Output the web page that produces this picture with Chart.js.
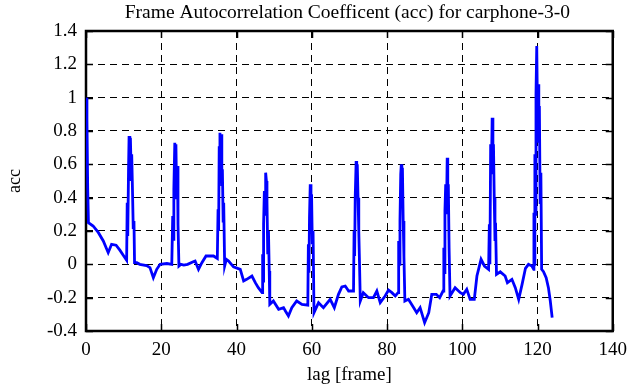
<!DOCTYPE html>
<html>
<head>
<meta charset="utf-8">
<script src="https://cdn.jsdelivr.net/npm/chart.js@4/dist/chart.umd.min.js"></script>
<style>
  html, body { margin: 0; padding: 0; background: #fff; }
  #wrap { width: 635px; height: 387px; }
</style>
</head>
<body>
<div id="wrap"><canvas id="c" width="635" height="387"></canvas></div>
<script>
const chartTitle = "Frame Autocorrelation Coefficent (acc) for carphone-3-0";
const xTitle = "lag [frame]";
const yTitle = "acc";
const xTicks = [0, 20, 40, 60, 80, 100, 120, 140];
const yTicks = [-0.4, -0.2, 0, 0.2, 0.4, 0.6, 0.8, 1, 1.2, 1.4];
const yTickLabels = ["-0.4", "-0.2", "0", "0.2", "0.4", "0.6", "0.8", "1", "1.2", "1.4"];

const lags = [
  0, 0.25, 0.45, 0.65, 1.9, 3.3, 4.6, 5.9, 6.8, 8.0, 9.0, 9.9, 10.8,
  10.95, 11.1, 11.3, 11.45, 11.65, 11.8, 12.0, 12.15, 12.35, 12.55, 12.75, 12.9,
  13.5, 14.3, 16.1, 17.0, 17.9, 18.8, 19.7, 21.5, 22.8,
  23.05, 23.2, 23.35, 23.6, 23.75, 23.9, 24.1, 24.3, 24.45, 24.7,
  25.2, 26.0, 27.0, 28.5, 29.0, 29.9, 30.8, 31.9, 33.9, 34.9,
  35.1, 35.25, 35.4, 35.6, 35.75, 35.9, 36.1, 36.25, 36.45, 36.6, 36.85,
  37.3, 37.9, 39.2, 41.0, 41.9, 42.7, 44.1, 45.0, 45.8, 46.8,
  46.95, 47.1, 47.2, 47.4, 47.6, 47.75, 47.95, 48.1, 48.3, 48.5, 48.7, 48.85,
  49.8, 51.2, 52.5, 53.0, 53.8, 54.7, 56.0, 57.4, 58.95,
  59.1, 59.25, 59.4, 59.6, 59.8, 59.95, 60.15, 60.35, 60.6,
  61.8, 63.1, 64.9, 66.0, 67.1, 68.0, 68.9, 69.8, 71.1,
  71.25, 71.4, 71.55, 71.8, 71.95, 72.1, 72.3, 72.5, 72.7, 72.9,
  73.7, 75.1, 76.4, 77.3, 78.2, 79.5, 80.4, 81.3, 82.2, 82.95,
  83.1, 83.3, 83.45, 83.65, 83.8, 83.95, 84.1, 84.3, 84.5, 84.75,
  85.7, 87.1, 87.9, 88.8, 90.0, 91.1, 91.9, 93.1, 94.0, 94.9,
  95.1, 95.25, 95.4, 95.6, 95.8, 96.0, 96.15, 96.3, 96.5, 96.75,
  98.1, 99.5, 100.3, 101.2, 102.1, 103.2, 103.9, 105.0, 105.9, 107.0,
  107.2, 107.35, 107.55, 107.75, 107.95, 108.15, 108.3, 108.5, 108.7, 108.85, 109.1,
  110.1, 111.4, 112.0, 113.2, 114.1, 115.0, 115.9, 116.8, 117.6, 118.5, 119.0,
  119.05, 119.15, 119.3, 119.45, 119.6, 119.8, 120.0, 120.15, 120.35, 120.5, 120.7, 120.9, 121.1,
  121.6, 122.3, 122.9, 123.4, 123.9
];
const acc = [
  1.00, 0.87, 0.46, 0.25, 0.23, 0.19, 0.14, 0.07, 0.12, 0.115, 0.085, 0.055, 0.025,
  0.37, 0.17, 0.56, 0.77, 0.50, 0.76, 0.56, 0.66, 0.45, 0.22, 0.26, 0.01,
  0.01, 0.00, -0.008, -0.02, -0.08, -0.03, 0.00, 0.005, 0.00,
  0.29, 0.15, 0.45, 0.73, 0.50, 0.72, 0.39, 0.59, 0.24, -0.01,
  0.00, -0.005, 0.00, 0.015, 0.02, -0.03, 0.01, 0.05, 0.05, 0.035,
  0.33, 0.20, 0.70, 0.79, 0.60, 0.78, 0.47, 0.57, 0.26, 0.37, -0.01,
  0.03, 0.02, -0.015, -0.03, -0.10, -0.09, -0.07, -0.11, -0.14, -0.17,
  0.06, -0.10, 0.24, 0.44, 0.30, 0.55, 0.50, 0.38, 0.06, 0.20, -0.04, -0.24,
  -0.22, -0.27, -0.26, -0.28, -0.31, -0.26, -0.22, -0.24, -0.245,
  0.12, -0.05, 0.28, 0.48, 0.30, 0.42, 0.12, 0.20, -0.29,
  -0.23, -0.26, -0.21, -0.26, -0.18, -0.135, -0.13, -0.16, -0.16,
  0.20, 0.05, 0.40, 0.62, 0.45, 0.60, 0.40, 0.20, 0.00, -0.22,
  -0.17, -0.20, -0.20, -0.16, -0.23, -0.19, -0.155, -0.17, -0.19, -0.17,
  0.14, 0.00, 0.26, 0.54, 0.60, 0.45, 0.58, 0.26, 0.05, -0.22,
  -0.21, -0.26, -0.29, -0.26, -0.35, -0.29, -0.18, -0.18, -0.20, -0.16,
  0.10, -0.05, 0.32, 0.48, 0.30, 0.64, 0.40, 0.48, 0.10, -0.19,
  -0.14, -0.17, -0.18, -0.15, -0.21, -0.21, -0.07, 0.03, -0.01, -0.03,
  0.24, 0.00, 0.72, 0.54, 0.88, 0.60, 0.72, 0.40, 0.14, 0.25, -0.06,
  -0.045, -0.07, -0.11, -0.09, -0.14, -0.21, -0.12, -0.024, 0.00, -0.01, -0.03,
  0.31, 0.00, 0.66, 0.30, 1.02, 1.31, 0.90, 1.08, 0.73, 0.95, 0.37, 0.55, -0.03,
  -0.044, -0.08, -0.14, -0.22, -0.32
];

const FONT = "'Liberation Serif', 'Times New Roman', serif";

const framePlugin = {
  id: 'frame',
  beforeDatasetsDraw(chart) {
    const { ctx, chartArea: { left, right, top, bottom }, scales: { x, y } } = chart;
    ctx.save();
    ctx.strokeStyle = '#000';
    ctx.lineWidth = 1.5;
    const L = 7;
    ctx.beginPath();
    xTicks.forEach(v => {
      const px = Math.round(x.getPixelForValue(v)) + 0.5;
      ctx.moveTo(px, bottom); ctx.lineTo(px, bottom - L);
      ctx.moveTo(px, top); ctx.lineTo(px, top + L);
    });
    yTicks.forEach(v => {
      const py = Math.round(y.getPixelForValue(v)) + 0.5;
      ctx.moveTo(left, py); ctx.lineTo(left + L, py);
      ctx.moveTo(right, py); ctx.lineTo(right - L, py);
    });
    ctx.stroke();
    ctx.lineWidth = 2.5;
    ctx.strokeRect(left, top, right - left, bottom - top);
    ctx.restore();
  },
  afterDraw(chart) {
    const { ctx, chartArea: { left, right } } = chart;
    ctx.save();
    ctx.fillStyle = '#000';
    ctx.font = "19.5px " + FONT;
    ctx.textAlign = 'center';
    ctx.textBaseline = 'middle';
    ctx.fillText(chartTitle, (left + right) / 2 - 2, 13);
    ctx.restore();
  }
};

new Chart(document.getElementById('c'), {
  type: 'line',
  data: {
    datasets: [{
      data: lags.map((l, i) => ({ x: l, y: acc[i] })),
      borderColor: '#0000ff',
      borderWidth: 2.8,
      pointRadius: 0,
      tension: 0,
      fill: false
    }]
  },
  options: {
    responsive: false,
    animation: false,
    devicePixelRatio: 1,
    layout: { padding: { left: 0, right: 22, top: 31, bottom: 0 } },
    plugins: {
      legend: { display: false },
      tooltip: { enabled: false },
      title: { display: false }
    },
    scales: {
      x: {
        type: 'linear',
        min: 0, max: 140,
        afterBuildTicks: s => { s.ticks = xTicks.map(v => ({ value: v })); },
        afterFit: s => { s.height = 56; },
        ticks: { color: '#000', font: { family: FONT, size: 19 }, padding: 8, maxRotation: 0 },
        grid: { color: '#000', lineWidth: 1, drawTicks: false },
        border: { display: false, dash: [7, 5] },
        title: { display: true, text: xTitle, color: '#000', font: { family: FONT, size: 19 }, padding: { top: 0, bottom: 1 } }
      },
      y: {
        type: 'linear',
        min: -0.4, max: 1.4,
        afterBuildTicks: s => { s.ticks = yTicks.map(v => ({ value: v })); },
        afterFit: s => { s.width = 86; },
        ticks: {
          color: '#000', font: { family: FONT, size: 19 }, padding: 9,
          callback: (v) => { const i = yTicks.findIndex(t => Math.abs(t - v) < 1e-9); return i >= 0 ? yTickLabels[i] : ''; }
        },
        grid: { color: '#000', lineWidth: 1, drawTicks: false },
        border: { display: false, dash: [7, 5] },
        title: { display: true, text: yTitle, color: '#000', font: { family: FONT, size: 18 }, padding: { top: 4, bottom: 0 } }
      }
    }
  },
  plugins: [framePlugin]
});
</script>
</body>
</html>
